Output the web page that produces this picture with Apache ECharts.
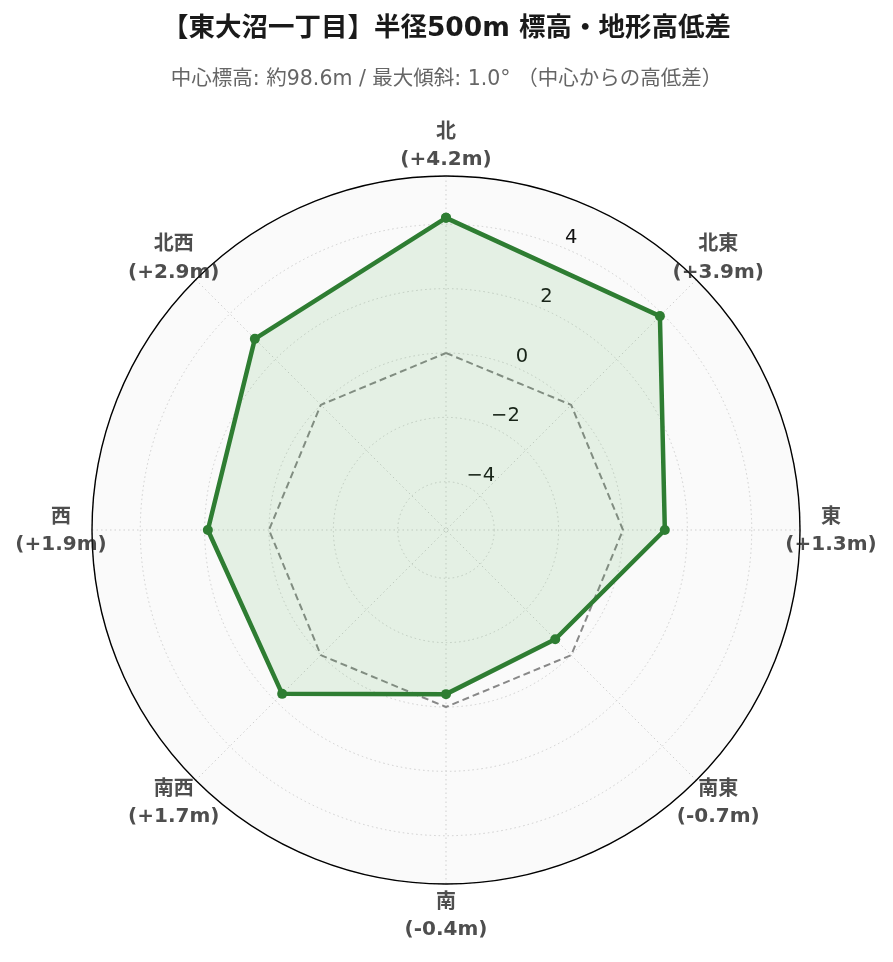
<!DOCTYPE html>
<html><head><meta charset="utf-8">
<script src="https://cdn.jsdelivr.net/npm/echarts@6/dist/echarts.min.js"></script>
<style>html,body{margin:0;padding:0;background:#fff}#c{width:893px;height:962px}</style>
</head><body><div id="c"></div>
<script>
// ---- data ----
const directions = ['北', '北東', '東', '南東', '南', '南西', '西', '北西'];
const elevationDiff = [4.2, 3.9, 1.3, -0.7, -0.4, 1.7, 1.9, 2.9];
const zeroLine = [0, 0, 0, 0, 0, 0, 0, 0];
const radialTicks = [-4, -2, 0, 2, 4];
const radialMin = -5.5, radialMax = 5.5;
const titleText = '【東大沼一丁目】半径500m 標高・地形高低差';
const subtitleText = '中心標高: 約98.6m / 最大傾斜: 1.0° （中心からの高低差）';

// ---- helpers ----
const closed = arr => arr.map((v, i) => [v, i]).concat([[arr[0], 0]]);
const fmtDiff = v => (v < 0 ? '-' : '+') + Math.abs(v).toFixed(1) + 'm';
const CJK = "'Noto Sans CJK JP', 'DejaVu Sans', sans-serif";
const LAT = "'DejaVu Sans', 'Noto Sans CJK JP', sans-serif";
const C = [446, 530];
const half = 360 / directions.length / 2;
const dotted = {color: '#cfcfcf', width: 1, type: [1.5, 3]};

const chart = echarts.init(document.getElementById('c'), null, {renderer: 'canvas'});
chart.setOption({
  backgroundColor: '#fff',
  animation: false,
  title: [
    {text: titleText, left: 'center', top: 11,
     textStyle: {fontSize: 26.5, fontWeight: 'bold', color: '#1a1a1a', fontFamily: LAT}},
    {text: subtitleText, left: 'center', top: 64,
     textStyle: {fontSize: 20.5, fontWeight: 'normal', color: '#666', fontFamily: LAT}}
  ],
  polar: [
    {center: C, radius: 354},
    {center: C, radius: 354},
    {center: C, radius: 385},
    {center: C, radius: 354}
  ],
  angleAxis: [
    {polarIndex: 0, type: 'value', min: 0, max: 360, startAngle: 90 - half, z: 0,
     axisLine: {show: false}, axisTick: {show: false}, axisLabel: {show: false},
     splitLine: {show: false},
     splitArea: {show: true, areaStyle: {color: ['#fafafa']}}},
    {polarIndex: 1, type: 'category', data: directions, boundaryGap: true, startAngle: 90 + half,
     show: false},
    {polarIndex: 2, type: 'category', data: directions, boundaryGap: true, startAngle: 90 + half,
     show: false},
    {polarIndex: 3, type: 'value', min: 0, max: 360, interval: 45, startAngle: 90, z: 2,
     axisLine: {show: true, lineStyle: {color: '#000', width: 1.4}},
     axisTick: {show: false}, axisLabel: {show: false},
     splitLine: {show: true, lineStyle: dotted},
     splitArea: {show: false}}
  ],
  radiusAxis: [
    {polarIndex: 0, type: 'value', min: radialMin, max: radialMax, z: 1,
     axisLine: {show: false}, axisTick: {show: false},
     splitLine: {show: true, lineStyle: dotted},
     axisLabel: {
       show: true, margin: 0, align: 'left', verticalAlign: 'bottom', padding: [0, 0, 0, 2],
       fontSize: 19.5, color: '#111', fontFamily: LAT,
       formatter: v => radialTicks.includes(v) ? (v < 0 ? '\u2212' + Math.abs(v) : String(v)) : ''
     }},
    {polarIndex: 1, type: 'value', min: radialMin, max: radialMax, show: false},
    {polarIndex: 2, type: 'value', min: 0, max: 1, show: false},
    {polarIndex: 3, type: 'value', min: radialMin, max: radialMax, show: false}
  ],
  series: [
    {type: 'line', coordinateSystem: 'polar', polarIndex: 1, z: 3, clip: false,
     data: closed(zeroLine), symbol: 'none',
     lineStyle: {color: '#888', width: 2, type: [7, 4]}},
    {type: 'line', coordinateSystem: 'polar', polarIndex: 1, z: 4, clip: false,
     data: closed(elevationDiff), symbol: 'circle', symbolSize: 10,
     itemStyle: {color: '#2e7d32'},
     lineStyle: {color: '#2e7d32', width: 4.5},
     areaStyle: {color: 'rgba(76,175,80,0.18)', origin: 'start'}},
    {type: 'scatter', coordinateSystem: 'polar', polarIndex: 2, z: 5,
     data: directions.map((d, i) => [1, i]),
     symbolSize: 1, itemStyle: {color: 'rgba(0,0,0,0)'},
     label: {
       show: true, position: 'inside', align: 'center', verticalAlign: 'middle',
       formatter: p => '{a|' + directions[p.dataIndex] + '}\n{b|(' + fmtDiff(elevationDiff[p.dataIndex]) + ')}',
       rich: {
         a: {fontSize: 20, fontWeight: 'bold', color: '#222', lineHeight: 30, fontFamily: CJK, align: 'center'},
         b: {fontSize: 20, fontWeight: 'bold', color: '#222', lineHeight: 30, fontFamily: LAT, align: 'center'}
       }
     }}
  ]
});
</script>
</body></html>
